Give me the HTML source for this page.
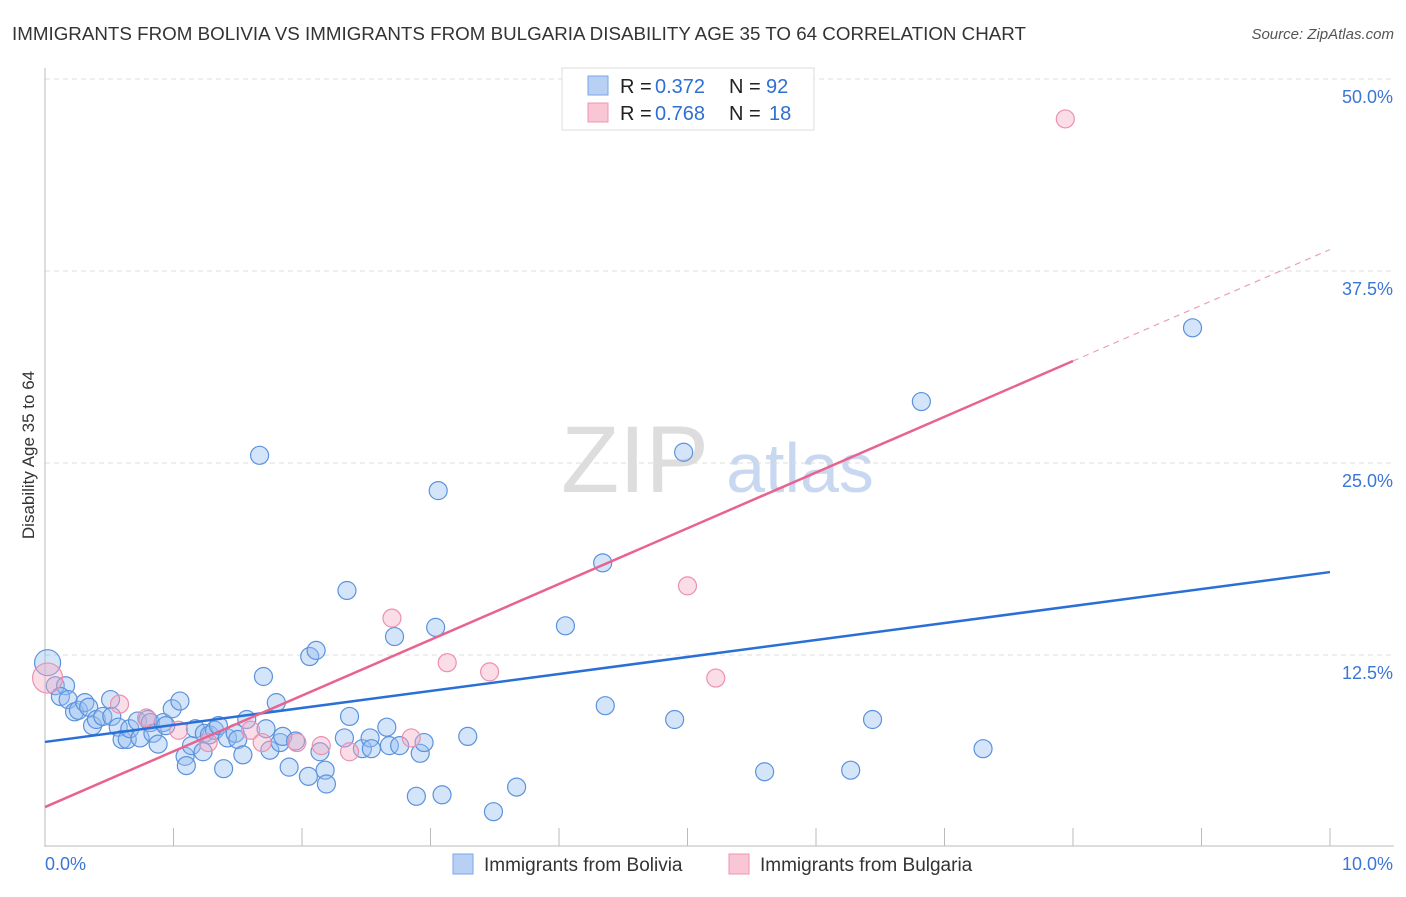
<!DOCTYPE html>
<html><head><meta charset="utf-8"><style>
body{margin:0;background:#fff;font-family:"Liberation Sans",sans-serif;}
svg text{font-family:"Liberation Sans",sans-serif;}
</style></head><body>
<svg id="chart" width="1406" height="892">
<text x="12" y="40" font-size="18" fill="#333" textLength="1014" lengthAdjust="spacingAndGlyphs">IMMIGRANTS FROM BOLIVIA VS IMMIGRANTS FROM BULGARIA DISABILITY AGE 35 TO 64 CORRELATION CHART</text>
<text x="1394" y="39" font-size="15" fill="#555" font-style="italic" text-anchor="end">Source: ZipAtlas.com</text>
<text x="635" y="492" font-size="95" fill="#ddd" font-family="Liberation Serif" text-anchor="middle">ZIP</text>
<text x="800" y="492" font-size="70" fill="#c8d8f0" text-anchor="middle">atlas</text>
<text transform="translate(34,455) rotate(-90)" font-size="17" fill="#333" text-anchor="middle">Disability Age 35 to 64</text>
<g id="grid"></g><g id="pts"></g><g id="lines"></g>
<g>
<rect x="562" y="68" width="252" height="62" fill="#fff" stroke="#ddd"/>
<rect x="588" y="76" width="20" height="19" fill="#b8d0f4" stroke="#7aa6e6"/>
<rect x="588" y="103" width="20" height="19" fill="#f9c6d5" stroke="#ee94b1"/>
<text x="620" y="93" font-size="20" fill="#222">R =</text>
<text x="655" y="93" font-size="20" fill="#2f6fd0">0.372</text>
<text x="729" y="93" font-size="20" fill="#222">N =</text>
<text x="766" y="93" font-size="20" fill="#2f6fd0">92</text>
<text x="620" y="120" font-size="20" fill="#222">R =</text>
<text x="655" y="120" font-size="20" fill="#2f6fd0">0.768</text>
<text x="729" y="120" font-size="20" fill="#222">N =</text>
<text x="769" y="120" font-size="20" fill="#2f6fd0">18</text>
</g>
<g>
<rect x="453" y="854" width="20" height="20" fill="#b8d0f4" stroke="#7aa6e6"/>
<text x="484" y="871" font-size="19" fill="#333">Immigrants from Bolivia</text>
<rect x="729" y="854" width="20" height="20" fill="#f9c6d5" stroke="#ee94b1"/>
<text x="760" y="871" font-size="19" fill="#333">Immigrants from Bulgaria</text>
</g>
</svg>
<script>
const yTicks=[12.5,25,37.5,50];
const yTickLabels=["12.5%","25.0%","37.5%","50.0%"];
const xTicks=[0,1,2,3,4,5,6,7,8,9,10];
const boliviaX=[0.02,0.08,0.16,0.12,0.18,0.23,0.26,0.31,0.34,0.37,0.40,0.45,0.51,0.52,0.57,0.60,0.64,0.66,0.72,0.74,0.80,0.82,0.84,0.88,0.92,0.94,0.99,1.05,1.09,1.10,1.14,1.17,1.23,1.24,1.28,1.32,1.35,1.39,1.42,1.48,1.50,1.54,1.57,1.67,1.70,1.72,1.75,1.80,1.83,1.85,1.90,1.95,2.05,2.06,2.11,2.14,2.18,2.19,2.33,2.35,2.37,2.47,2.53,2.54,2.66,2.68,2.72,2.76,2.89,2.92,2.95,3.04,3.06,3.09,3.29,3.49,3.67,4.05,4.34,4.36,4.90,4.97,5.60,6.27,6.44,6.82,7.30,8.93];
const boliviaY=[12.0,10.5,10.5,9.8,9.6,8.8,8.9,9.4,9.1,7.9,8.3,8.5,9.6,8.5,7.8,7.0,7.0,7.7,8.2,7.1,8.3,8.1,7.4,6.7,8.1,7.9,9.0,9.5,5.9,5.3,6.6,7.7,6.2,7.4,7.3,7.6,7.9,5.1,7.1,7.4,7.0,6.0,8.3,25.5,11.1,7.7,6.3,9.4,6.8,7.2,5.2,6.9,4.6,12.4,12.8,6.2,5.0,4.1,7.1,16.7,8.5,6.4,7.1,6.4,7.8,6.6,13.7,6.6,3.3,6.1,6.8,14.3,23.2,3.4,7.2,2.3,3.9,14.4,18.5,9.2,8.3,25.7,4.9,5.0,8.3,29.0,6.4,33.8];
const bulgariaX=[0.02,0.58,0.79,1.04,1.27,1.60,1.69,1.96,2.15,2.37,2.70,2.85,3.13,3.46,5.00,5.22,7.94];
const bulgariaY=[11.0,9.3,8.4,7.6,6.8,7.6,6.8,6.8,6.6,6.2,14.9,7.1,12.0,11.4,17.0,11.0,47.4];
const blueLine=[6.84,17.9];
const pinkLine=[2.6,38.9];
const pinkSolidEnd=8.0;
const NS="http://www.w3.org/2000/svg";
const sx=v=>45+v*128.5, sy=v=>847-v*15.36;
function mk(t,a,p){const e=document.createElementNS(NS,t);for(const k in a)e.setAttribute(k,a[k]);p.appendChild(e);return e;}
const g=document.getElementById('grid');
yTicks.forEach((v,i)=>{
 const l=mk('line',{x1:45,x2:1394,y1:sy(v),y2:sy(v),stroke:'#ddd','stroke-dasharray':'5,4'},g);
 
 
 const t=mk('text',{x:1393,y:sy(v)+24,'font-size':18,fill:'#3a76d6','text-anchor':'end'},g);t.textContent=yTickLabels[i];
 
 
});
mk('line',{x1:45,x2:45,y1:68,y2:847,stroke:'#bbb'},g);
mk('line',{x1:45,x2:1394,y1:846,y2:846,stroke:'#bbb'},g);
xTicks.forEach(v=>{const l=mk('line',{x1:sx(v),x2:sx(v),y1:828,y2:846,stroke:'#bbb'},g);
 
 });
let t0=mk('text',{x:45,y:870,'font-size':18,fill:'#3a76d6'},g);t0.textContent='0.0%';


let t1=mk('text',{x:1393,y:870,'font-size':18,fill:'#3a76d6','text-anchor':'end'},g);t1.textContent='10.0%';


const p=document.getElementById('pts');
boliviaX.forEach((x,i)=>{const c=mk('circle',{cx:sx(x),cy:sy(boliviaY[i]),r:i==0?13:9,fill:'rgba(150,190,240,0.4)',stroke:'#5b92de','stroke-width':1.2},p);
 
 });
bulgariaX.forEach((x,i)=>{const c=mk('circle',{cx:sx(x),cy:sy(bulgariaY[i]),r:i==0?15:9,fill:'rgba(245,170,195,0.4)',stroke:'#ec90ae','stroke-width':1.2},p);
 
 });
const L=document.getElementById('lines');
const pv=x=>pinkLine[0]+(pinkLine[1]-pinkLine[0])*x/10;
let a=mk('line',{x1:sx(0),y1:sy(blueLine[0]),x2:sx(10),y2:sy(blueLine[1]),stroke:'#2a6fd6','stroke-width':2.5},L);


let b=mk('line',{x1:sx(0),y1:sy(pv(0)),x2:sx(pinkSolidEnd),y2:sy(pv(pinkSolidEnd)),stroke:'#e8638f','stroke-width':2.5},L);


let c=mk('line',{x1:sx(pinkSolidEnd),y1:sy(pv(pinkSolidEnd)),x2:sx(10),y2:sy(pv(10)),stroke:'#e8a0b8','stroke-width':1.2,'stroke-dasharray':'6,5'},L);


</script>
</body></html>
